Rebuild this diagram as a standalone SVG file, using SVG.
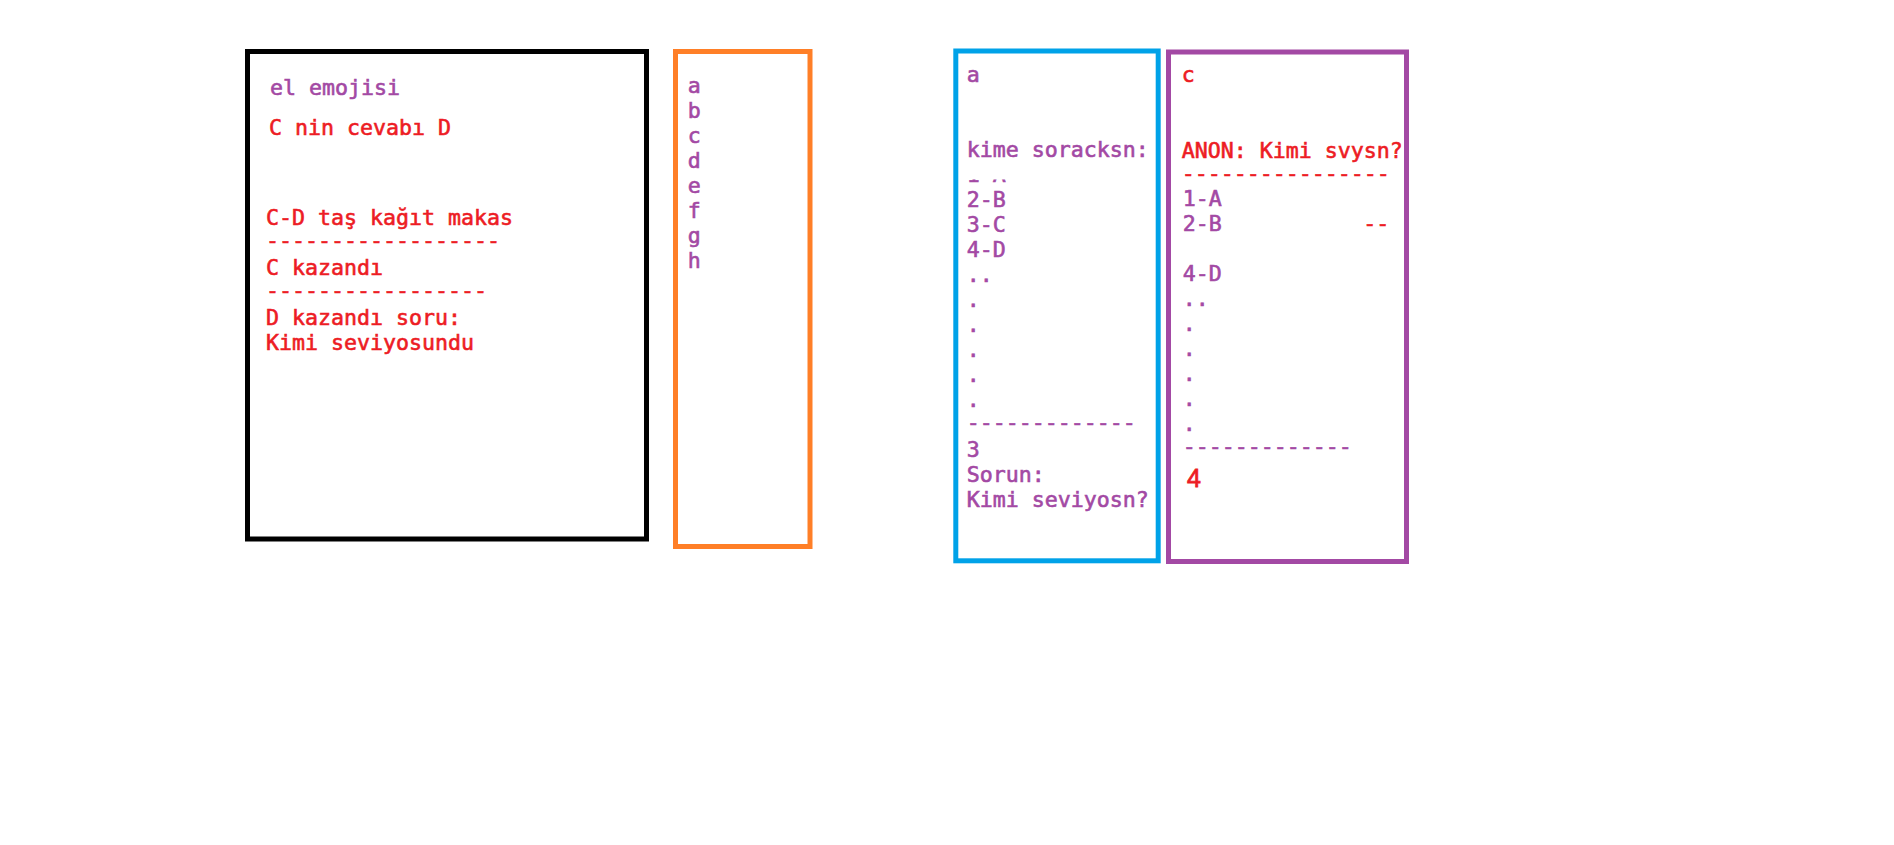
<svg xmlns="http://www.w3.org/2000/svg" width="1894" height="845" viewBox="0 0 1894 845">
<style>
.box{fill:#fff;stroke-width:5}
.t{font-family:"DejaVu Sans Mono","Liberation Mono",monospace;font-size:21.6px;stroke-width:0.6px}
.p{fill:#a349a4;stroke:#a349a4}
.r{fill:#ed1c24;stroke:#ed1c24}
</style>
<defs>
<clipPath id="clip1A"><rect x="960" y="179.6" width="120" height="8"/></clipPath>
</defs>
<rect width="1894" height="845" fill="#fff"/>
<g id="connectors"></g>
<g id="box-black">
<rect class="box" x="247.5" y="51.5" width="399" height="487.5" stroke="#000"/>
<text class="t p" x="270" y="95">el emojisi</text>
<text class="t r" x="269" y="135">C nin cevabı D</text>
<text class="t r" x="266" y="225">C-D taş kağıt makas</text>
<text class="t r" x="266" y="248">------------------</text>
<text class="t r" x="266" y="275">C kazandı</text>
<text class="t r" x="266" y="298">-----------------</text>
<text class="t r" x="266" y="325">D kazandı soru:</text>
<text class="t r" x="266" y="350">Kimi seviyosundu</text>
</g>
<g id="box-orange">
<rect class="box" x="675.5" y="51.5" width="134.5" height="495" stroke="#ff7f27"/>
<text class="t p" x="687.7" y="92.7">a</text>
<text class="t p" x="687.7" y="117.7">b</text>
<text class="t p" x="687.7" y="142.7">c</text>
<text class="t p" x="687.7" y="167.7">d</text>
<text class="t p" x="687.7" y="192.7">e</text>
<text class="t p" x="687.7" y="217.7">f</text>
<text class="t p" x="687.7" y="242.7">g</text>
<text class="t p" x="687.7" y="267.7">h</text>
</g>
<g id="box-blue">
<rect class="box" x="955.8" y="51" width="202.4" height="509.8" stroke="#00a2e8"/>
<text class="t p" x="966.7" y="81.7">a</text>
<text class="t p" x="966.7" y="156.7">kime soracksn:</text>
<text class="t p" x="966.7" y="181.7" clip-path="url(#clip1A)">1-A</text>
<text class="t p" x="966.7" y="206.7">2-B</text>
<text class="t p" x="966.7" y="231.7">3-C</text>
<text class="t p" x="966.7" y="256.7">4-D</text>
<text class="t p" x="966.7" y="281.7">..</text>
<text class="t p" x="966.7" y="306.7">.</text>
<text class="t p" x="966.7" y="331.7">.</text>
<text class="t p" x="966.7" y="356.7">.</text>
<text class="t p" x="966.7" y="381.7">.</text>
<text class="t p" x="966.7" y="406.7">.</text>
<text class="t p" x="966.7" y="429.7">-------------</text>
<text class="t p" x="966.7" y="456.7">3</text>
<text class="t p" x="966.7" y="481.7">Sorun:</text>
<text class="t p" x="966.7" y="506.7">Kimi seviyosn?</text>
</g>
<g id="box-purple">
<rect class="box" x="1168.5" y="52" width="238" height="509.5" stroke="#a349a4"/>
<text class="t r" x="1181.7" y="82">c</text>
<text class="t r" x="1181.7" y="157.7">ANON: Kimi svysn?</text>
<text class="t r" x="1181.7" y="180.7">----------------</text>
<text class="t r" x="1363.3" y="230.7">--</text>
<text class="t p" x="1182.7" y="205.7">1-A</text>
<text class="t p" x="1182.7" y="230.7">2-B</text>
<text class="t p" x="1182.7" y="280.7">4-D</text>
<text class="t p" x="1182.7" y="305.7">..</text>
<text class="t p" x="1182.7" y="330.7">.</text>
<text class="t p" x="1182.7" y="355.7">.</text>
<text class="t p" x="1182.7" y="380.7">.</text>
<text class="t p" x="1182.7" y="405.7">.</text>
<text class="t p" x="1182.7" y="430.7">.</text>
<text class="t p" x="1182.7" y="453.7">-------------</text>
<text class="r" x="1187" y="487.3" font-family="Liberation Sans, Arial, sans-serif" font-size="25" stroke-width="0.8">4</text>
</g>
</svg>
